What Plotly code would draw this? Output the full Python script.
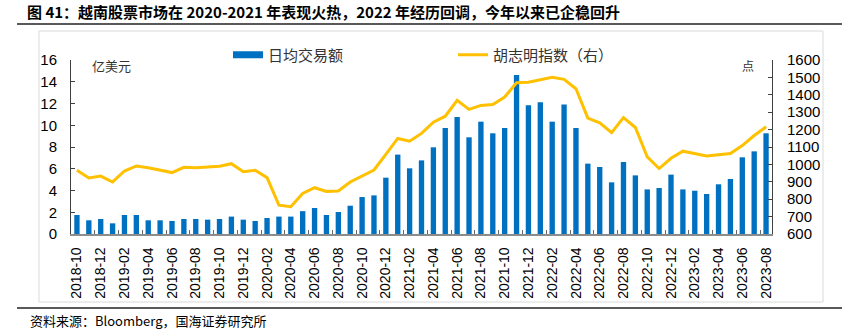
import plotly.graph_objects as go

months = [
    "2018-10", "2018-11", "2018-12",
    "2019-01", "2019-02", "2019-03", "2019-04", "2019-05", "2019-06",
    "2019-07", "2019-08", "2019-09", "2019-10", "2019-11", "2019-12",
    "2020-01", "2020-02", "2020-03", "2020-04", "2020-05", "2020-06",
    "2020-07", "2020-08", "2020-09", "2020-10", "2020-11", "2020-12",
    "2021-01", "2021-02", "2021-03", "2021-04", "2021-05", "2021-06",
    "2021-07", "2021-08", "2021-09", "2021-10", "2021-11", "2021-12",
    "2022-01", "2022-02", "2022-03", "2022-04", "2022-05", "2022-06",
    "2022-07", "2022-08", "2022-09", "2022-10", "2022-11", "2022-12",
    "2023-01", "2023-02", "2023-03", "2023-04", "2023-05", "2023-06",
    "2023-07", "2023-08",
]

# 日均交易额（亿美元）
turnover = [
    1.75, 1.26, 1.38,
    0.98, 1.75, 1.75, 1.26, 1.26, 1.20,
    1.38, 1.38, 1.32, 1.38, 1.60, 1.32,
    1.20, 1.47, 1.60, 1.60, 2.10, 2.39,
    1.75, 2.02, 2.60, 3.40, 3.55, 5.18,
    7.30, 6.04, 6.77, 7.97, 9.75, 10.76,
    8.89, 10.33, 9.26, 9.75, 14.62, 11.83,
    12.11, 10.33, 11.90, 9.75, 6.47, 6.16,
    4.75, 6.62, 5.39, 4.10, 4.23, 5.46,
    4.10, 3.98, 3.68, 4.57, 5.06, 7.05,
    7.60, 9.26,
]

# 胡志明指数（点）
vn_index = [
    966, 922, 933,
    899, 962, 991, 981, 968, 953,
    983, 981, 985, 989, 1004, 958,
    966, 924, 766, 757, 833, 866,
    845, 847, 899, 935, 968, 1058,
    1149, 1133, 1178, 1243, 1277, 1368,
    1316, 1339, 1344, 1387, 1469, 1472,
    1486, 1501, 1489, 1435, 1266, 1239,
    1183, 1269, 1212, 1043, 976, 1035,
    1076, 1062, 1049, 1056, 1062, 1108,
    1166, 1216,
]

tick_labels = months[::2]

BLUE = "#0070C0"
GOLD = "#FFC000"
CJK = "Noto Sans CJK SC"
LAT = "Liberation Sans, Arial, sans-serif"

W, H = 842, 335
L, R, T, B = 71, 772, 60, 234


def px(x):
    return (x - L) / (R - L)


def py(y):
    return (B - y) / (B - T)


fig = go.Figure()

fig.add_trace(go.Bar(
    x=months, y=turnover, name="日均交易额",
    marker=dict(color=BLUE, line=dict(width=0)),
    width=0.45, showlegend=False, yaxis="y",
))
# legend proxy for the bar series (wide flat swatch)
fig.add_trace(go.Scatter(
    x=[None], y=[None], mode="lines", name="日均交易额",
    line=dict(color=BLUE, width=7), showlegend=True, hoverinfo="skip",
))
fig.add_trace(go.Scatter(
    x=months, y=vn_index, name="胡志明指数（右）", mode="lines",
    line=dict(color=GOLD, width=3), yaxis="y2",
))

fig.update_layout(
    width=W, height=H,
    margin=dict(l=L, r=W - R, t=T, b=H - B, autoexpand=False),
    paper_bgcolor="white", plot_bgcolor="white",
    font=dict(family=LAT, size=15, color="#000000"),
    showlegend=True,
    legend=dict(
        orientation="h", xref="container", yref="container",
        x=228 / W, y=1 - 55 / H, xanchor="left", yanchor="middle",
        font=dict(family=CJK, size=15, color="#333333"),
        entrywidth=180, entrywidthmode="pixels",
        bgcolor="rgba(0,0,0,0)", borderwidth=0,
        traceorder="normal",
    ),
    xaxis=dict(
        type="category", categoryorder="array", categoryarray=months,
        tickmode="array", tickvals=tick_labels, ticktext=tick_labels,
        tickangle=-90, tickfont=dict(family=LAT, size=14, color="#000000"),
        showline=True, linecolor="#8C8C8C", linewidth=1.5,
        ticks="inside", ticklen=4, tickcolor="#666666", tickson="boundaries",
        showgrid=False, zeroline=False, range=[-0.5, len(months) - 0.5],
        ticklabelstandoff=6,
    ),
    yaxis=dict(
        range=[0, 16], dtick=2, tick0=0,
        showline=True, linecolor="#404040", linewidth=1,
        ticks="inside", ticklen=4, tickcolor="#404040",
        showgrid=False, zeroline=False,
        tickfont=dict(family=LAT, size=15, color="#000000"),
        ticklabelstandoff=10,
    ),
    yaxis2=dict(
        range=[600, 1600], dtick=100, tick0=600,
        overlaying="y", side="right",
        showline=True, linecolor="#404040", linewidth=1,
        ticks="inside", ticklen=4, tickcolor="#404040",
        showgrid=False, zeroline=False,
        tickfont=dict(family=LAT, size=15, color="#000000"),
        ticklabelstandoff=11,
    ),
    title=dict(
        text="<b>图 41：越南股票市场在 2020-2021 年表现火热，2022 年经历回调，今年以来已企稳回升</b>",
        x=27 / W, xanchor="left", xref="container",
        y=1 - 13 / H, yanchor="middle", yref="container",
        font=dict(family=CJK, size=15, color="#000000"),
    ),
)

shapes = [
    # chart frame
    dict(type="rect", xref="paper", yref="paper",
         x0=px(39), x1=px(823), y0=py(302), y1=py(31),
         line=dict(color="#D9D9D9", width=1), layer="below"),
    # title underline
    dict(type="line", xref="paper", yref="paper",
         x0=px(17), x1=px(842), y0=py(24), y1=py(24),
         line=dict(color="#595959", width=2)),
    # bottom rule
    dict(type="line", xref="paper", yref="paper",
         x0=px(17), x1=px(842), y0=py(308), y1=py(308),
         line=dict(color="#595959", width=2)),
]
fig.update_layout(shapes=shapes)

annotations = [
    dict(text="亿美元", xref="paper", yref="paper", x=px(90), y=py(65),
         xanchor="left", yanchor="middle", showarrow=False,
         font=dict(family=CJK, size=13, color="#333333")),
    dict(text="点", xref="paper", yref="paper", x=px(740), y=py(65),
         xanchor="left", yanchor="middle", showarrow=False,
         font=dict(family=CJK, size=12, color="#333333")),
    dict(text="资料来源：Bloomberg，国海证券研究所", xref="paper", yref="paper",
         x=px(28), y=py(320), xanchor="left", yanchor="middle", showarrow=False,
         font=dict(family=CJK, size=13, color="#000000")),
]
fig.update_layout(annotations=annotations)

fig.write_html("out.html")
